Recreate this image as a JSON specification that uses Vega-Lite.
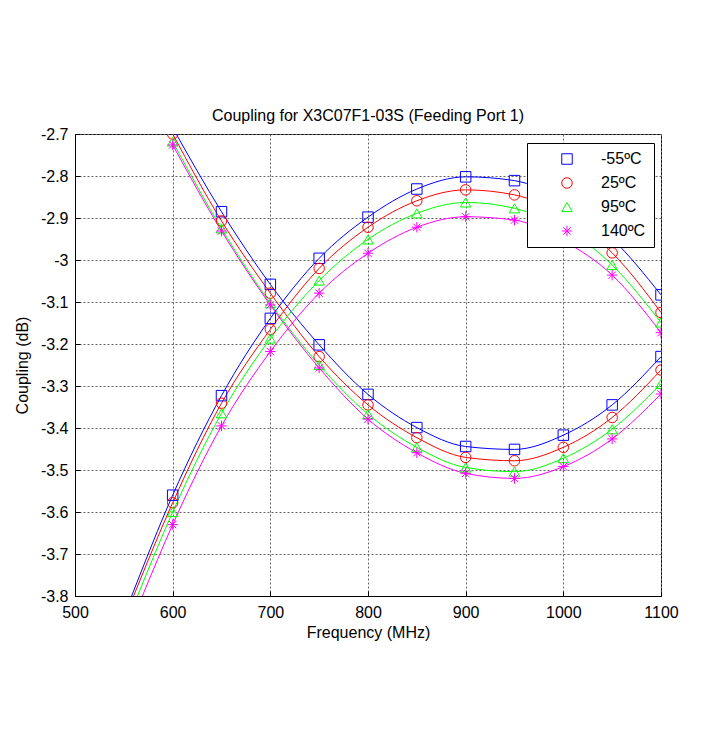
{
  "$schema": "https://vega.github.io/schema/vega-lite/v6.json",
  "width": 586,
  "height": 462,
  "autosize": {"type": "none"},
  "padding": {"left": 75, "top": 134, "right": 41, "bottom": 140},
  "background": "white",
  "config": {
    "font": "Liberation Sans",
    "view": {"stroke": "black", "strokeWidth": 1},
    "axis": {
      "domainColor": "black",
      "labelColor": "black",
      "titleColor": "black",
      "labelFontSize": 16,
      "titleFontSize": 16,
      "titleFontWeight": "normal",
      "gridColor": "#666666",
      "gridDash": [2, 2],
      "gridWidth": 1,
      "gridOpacity": 1,
      "tickColor": "black",
      "ticks": true,
      "tickSize": -5,
      "labelFlush": false,
      "labelOverlap": false
    },
    "legend": {
      "strokeColor": "black",
      "strokeWidth": 1,
      "fillColor": "white",
      "padding": 8,
      "labelFontSize": 16,
      "labelColor": "black",
      "symbolSize": 110,
      "symbolStrokeWidth": 1,
      "symbolOffset": 24,
      "labelOffset": 26,
      "rowPadding": 8
    }
  },
  "title": {
    "text": "Coupling for X3C07F1-03S (Feeding Port 1)",
    "fontSize": 16,
    "fontWeight": "normal",
    "color": "black",
    "offset": 2
  },
  "datasets": {
    "markers": [
      {"f": 600, "v": -2.685, "temp": "-55ºC", "curve": "fall"},
      {"f": 650, "v": -2.885, "temp": "-55ºC", "curve": "fall"},
      {"f": 700, "v": -3.058, "temp": "-55ºC", "curve": "fall"},
      {"f": 750, "v": -3.202, "temp": "-55ºC", "curve": "fall"},
      {"f": 800, "v": -3.32, "temp": "-55ºC", "curve": "fall"},
      {"f": 850, "v": -3.399, "temp": "-55ºC", "curve": "fall"},
      {"f": 900, "v": -3.444, "temp": "-55ºC", "curve": "fall"},
      {"f": 950, "v": -3.451, "temp": "-55ºC", "curve": "fall"},
      {"f": 1000, "v": -3.417, "temp": "-55ºC", "curve": "fall"},
      {"f": 1050, "v": -3.345, "temp": "-55ºC", "curve": "fall"},
      {"f": 1100, "v": -3.23, "temp": "-55ºC", "curve": "fall"},
      {"f": 600, "v": -2.7, "temp": "25ºC", "curve": "fall"},
      {"f": 650, "v": -2.907, "temp": "25ºC", "curve": "fall"},
      {"f": 700, "v": -3.079, "temp": "25ºC", "curve": "fall"},
      {"f": 750, "v": -3.23, "temp": "25ºC", "curve": "fall"},
      {"f": 800, "v": -3.345, "temp": "25ºC", "curve": "fall"},
      {"f": 850, "v": -3.423, "temp": "25ºC", "curve": "fall"},
      {"f": 900, "v": -3.47, "temp": "25ºC", "curve": "fall"},
      {"f": 950, "v": -3.478, "temp": "25ºC", "curve": "fall"},
      {"f": 1000, "v": -3.446, "temp": "25ºC", "curve": "fall"},
      {"f": 1050, "v": -3.375, "temp": "25ºC", "curve": "fall"},
      {"f": 1100, "v": -3.262, "temp": "25ºC", "curve": "fall"},
      {"f": 600, "v": -2.718, "temp": "95ºC", "curve": "fall"},
      {"f": 650, "v": -2.925, "temp": "95ºC", "curve": "fall"},
      {"f": 700, "v": -3.103, "temp": "95ºC", "curve": "fall"},
      {"f": 750, "v": -3.25, "temp": "95ºC", "curve": "fall"},
      {"f": 800, "v": -3.367, "temp": "95ºC", "curve": "fall"},
      {"f": 850, "v": -3.446, "temp": "95ºC", "curve": "fall"},
      {"f": 900, "v": -3.494, "temp": "95ºC", "curve": "fall"},
      {"f": 950, "v": -3.504, "temp": "95ºC", "curve": "fall"},
      {"f": 1000, "v": -3.472, "temp": "95ºC", "curve": "fall"},
      {"f": 1050, "v": -3.403, "temp": "95ºC", "curve": "fall"},
      {"f": 1100, "v": -3.295, "temp": "95ºC", "curve": "fall"},
      {"f": 600, "v": -2.726, "temp": "140ºC", "curve": "fall"},
      {"f": 650, "v": -2.931, "temp": "140ºC", "curve": "fall"},
      {"f": 700, "v": -3.107, "temp": "140ºC", "curve": "fall"},
      {"f": 750, "v": -3.257, "temp": "140ºC", "curve": "fall"},
      {"f": 800, "v": -3.379, "temp": "140ºC", "curve": "fall"},
      {"f": 850, "v": -3.459, "temp": "140ºC", "curve": "fall"},
      {"f": 900, "v": -3.508, "temp": "140ºC", "curve": "fall"},
      {"f": 950, "v": -3.52, "temp": "140ºC", "curve": "fall"},
      {"f": 1000, "v": -3.492, "temp": "140ºC", "curve": "fall"},
      {"f": 1050, "v": -3.426, "temp": "140ºC", "curve": "fall"},
      {"f": 1100, "v": -3.319, "temp": "140ºC", "curve": "fall"},
      {"f": 600, "v": -3.56, "temp": "-55ºC", "curve": "rise"},
      {"f": 650, "v": -3.323, "temp": "-55ºC", "curve": "rise"},
      {"f": 700, "v": -3.139, "temp": "-55ºC", "curve": "rise"},
      {"f": 750, "v": -2.996, "temp": "-55ºC", "curve": "rise"},
      {"f": 800, "v": -2.898, "temp": "-55ºC", "curve": "rise"},
      {"f": 850, "v": -2.831, "temp": "-55ºC", "curve": "rise"},
      {"f": 900, "v": -2.802, "temp": "-55ºC", "curve": "rise"},
      {"f": 950, "v": -2.811, "temp": "-55ºC", "curve": "rise"},
      {"f": 1000, "v": -2.859, "temp": "-55ºC", "curve": "rise"},
      {"f": 1050, "v": -2.949, "temp": "-55ºC", "curve": "rise"},
      {"f": 1100, "v": -3.083, "temp": "-55ºC", "curve": "rise"},
      {"f": 600, "v": -3.578, "temp": "25ºC", "curve": "rise"},
      {"f": 650, "v": -3.341, "temp": "25ºC", "curve": "rise"},
      {"f": 700, "v": -3.165, "temp": "25ºC", "curve": "rise"},
      {"f": 750, "v": -3.02, "temp": "25ºC", "curve": "rise"},
      {"f": 800, "v": -2.922, "temp": "25ºC", "curve": "rise"},
      {"f": 850, "v": -2.859, "temp": "25ºC", "curve": "rise"},
      {"f": 900, "v": -2.833, "temp": "25ºC", "curve": "rise"},
      {"f": 950, "v": -2.845, "temp": "25ºC", "curve": "rise"},
      {"f": 1000, "v": -2.893, "temp": "25ºC", "curve": "rise"},
      {"f": 1050, "v": -2.983, "temp": "25ºC", "curve": "rise"},
      {"f": 1100, "v": -3.125, "temp": "25ºC", "curve": "rise"},
      {"f": 600, "v": -3.6, "temp": "95ºC", "curve": "rise"},
      {"f": 650, "v": -3.365, "temp": "95ºC", "curve": "rise"},
      {"f": 700, "v": -3.187, "temp": "95ºC", "curve": "rise"},
      {"f": 750, "v": -3.049, "temp": "95ºC", "curve": "rise"},
      {"f": 800, "v": -2.951, "temp": "95ºC", "curve": "rise"},
      {"f": 850, "v": -2.889, "temp": "95ºC", "curve": "rise"},
      {"f": 900, "v": -2.863, "temp": "95ºC", "curve": "rise"},
      {"f": 950, "v": -2.877, "temp": "95ºC", "curve": "rise"},
      {"f": 1000, "v": -2.923, "temp": "95ºC", "curve": "rise"},
      {"f": 1050, "v": -3.012, "temp": "95ºC", "curve": "rise"},
      {"f": 1100, "v": -3.149, "temp": "95ºC", "curve": "rise"},
      {"f": 600, "v": -3.63, "temp": "140ºC", "curve": "rise"},
      {"f": 650, "v": -3.395, "temp": "140ºC", "curve": "rise"},
      {"f": 700, "v": -3.218, "temp": "140ºC", "curve": "rise"},
      {"f": 750, "v": -3.079, "temp": "140ºC", "curve": "rise"},
      {"f": 800, "v": -2.984, "temp": "140ºC", "curve": "rise"},
      {"f": 850, "v": -2.922, "temp": "140ºC", "curve": "rise"},
      {"f": 900, "v": -2.897, "temp": "140ºC", "curve": "rise"},
      {"f": 950, "v": -2.905, "temp": "140ºC", "curve": "rise"},
      {"f": 1000, "v": -2.954, "temp": "140ºC", "curve": "rise"},
      {"f": 1050, "v": -3.036, "temp": "140ºC", "curve": "rise"},
      {"f": 1100, "v": -3.173, "temp": "140ºC", "curve": "rise"}
    ],
    "lines": [
      {"f": 600, "v": -2.685, "temp": "-55ºC", "curve": "fall"},
      {"f": 650, "v": -2.885, "temp": "-55ºC", "curve": "fall"},
      {"f": 700, "v": -3.058, "temp": "-55ºC", "curve": "fall"},
      {"f": 750, "v": -3.202, "temp": "-55ºC", "curve": "fall"},
      {"f": 800, "v": -3.32, "temp": "-55ºC", "curve": "fall"},
      {"f": 850, "v": -3.399, "temp": "-55ºC", "curve": "fall"},
      {"f": 900, "v": -3.444, "temp": "-55ºC", "curve": "fall"},
      {"f": 950, "v": -3.451, "temp": "-55ºC", "curve": "fall"},
      {"f": 1000, "v": -3.417, "temp": "-55ºC", "curve": "fall"},
      {"f": 1050, "v": -3.345, "temp": "-55ºC", "curve": "fall"},
      {"f": 1100, "v": -3.23, "temp": "-55ºC", "curve": "fall"},
      {"f": 600, "v": -2.7, "temp": "25ºC", "curve": "fall"},
      {"f": 650, "v": -2.907, "temp": "25ºC", "curve": "fall"},
      {"f": 700, "v": -3.079, "temp": "25ºC", "curve": "fall"},
      {"f": 750, "v": -3.23, "temp": "25ºC", "curve": "fall"},
      {"f": 800, "v": -3.345, "temp": "25ºC", "curve": "fall"},
      {"f": 850, "v": -3.423, "temp": "25ºC", "curve": "fall"},
      {"f": 900, "v": -3.47, "temp": "25ºC", "curve": "fall"},
      {"f": 950, "v": -3.478, "temp": "25ºC", "curve": "fall"},
      {"f": 1000, "v": -3.446, "temp": "25ºC", "curve": "fall"},
      {"f": 1050, "v": -3.375, "temp": "25ºC", "curve": "fall"},
      {"f": 1100, "v": -3.262, "temp": "25ºC", "curve": "fall"},
      {"f": 600, "v": -2.718, "temp": "95ºC", "curve": "fall"},
      {"f": 650, "v": -2.925, "temp": "95ºC", "curve": "fall"},
      {"f": 700, "v": -3.103, "temp": "95ºC", "curve": "fall"},
      {"f": 750, "v": -3.25, "temp": "95ºC", "curve": "fall"},
      {"f": 800, "v": -3.367, "temp": "95ºC", "curve": "fall"},
      {"f": 850, "v": -3.446, "temp": "95ºC", "curve": "fall"},
      {"f": 900, "v": -3.494, "temp": "95ºC", "curve": "fall"},
      {"f": 950, "v": -3.504, "temp": "95ºC", "curve": "fall"},
      {"f": 1000, "v": -3.472, "temp": "95ºC", "curve": "fall"},
      {"f": 1050, "v": -3.403, "temp": "95ºC", "curve": "fall"},
      {"f": 1100, "v": -3.295, "temp": "95ºC", "curve": "fall"},
      {"f": 600, "v": -2.726, "temp": "140ºC", "curve": "fall"},
      {"f": 650, "v": -2.931, "temp": "140ºC", "curve": "fall"},
      {"f": 700, "v": -3.107, "temp": "140ºC", "curve": "fall"},
      {"f": 750, "v": -3.257, "temp": "140ºC", "curve": "fall"},
      {"f": 800, "v": -3.379, "temp": "140ºC", "curve": "fall"},
      {"f": 850, "v": -3.459, "temp": "140ºC", "curve": "fall"},
      {"f": 900, "v": -3.508, "temp": "140ºC", "curve": "fall"},
      {"f": 950, "v": -3.52, "temp": "140ºC", "curve": "fall"},
      {"f": 1000, "v": -3.492, "temp": "140ºC", "curve": "fall"},
      {"f": 1050, "v": -3.426, "temp": "140ºC", "curve": "fall"},
      {"f": 1100, "v": -3.319, "temp": "140ºC", "curve": "fall"},
      {"f": 558, "v": -3.8, "temp": "-55ºC", "curve": "rise"},
      {"f": 600, "v": -3.56, "temp": "-55ºC", "curve": "rise"},
      {"f": 650, "v": -3.323, "temp": "-55ºC", "curve": "rise"},
      {"f": 700, "v": -3.139, "temp": "-55ºC", "curve": "rise"},
      {"f": 750, "v": -2.996, "temp": "-55ºC", "curve": "rise"},
      {"f": 800, "v": -2.898, "temp": "-55ºC", "curve": "rise"},
      {"f": 850, "v": -2.831, "temp": "-55ºC", "curve": "rise"},
      {"f": 900, "v": -2.802, "temp": "-55ºC", "curve": "rise"},
      {"f": 950, "v": -2.811, "temp": "-55ºC", "curve": "rise"},
      {"f": 1000, "v": -2.859, "temp": "-55ºC", "curve": "rise"},
      {"f": 1050, "v": -2.949, "temp": "-55ºC", "curve": "rise"},
      {"f": 1100, "v": -3.083, "temp": "-55ºC", "curve": "rise"},
      {"f": 560, "v": -3.8, "temp": "25ºC", "curve": "rise"},
      {"f": 600, "v": -3.578, "temp": "25ºC", "curve": "rise"},
      {"f": 650, "v": -3.341, "temp": "25ºC", "curve": "rise"},
      {"f": 700, "v": -3.165, "temp": "25ºC", "curve": "rise"},
      {"f": 750, "v": -3.02, "temp": "25ºC", "curve": "rise"},
      {"f": 800, "v": -2.922, "temp": "25ºC", "curve": "rise"},
      {"f": 850, "v": -2.859, "temp": "25ºC", "curve": "rise"},
      {"f": 900, "v": -2.833, "temp": "25ºC", "curve": "rise"},
      {"f": 950, "v": -2.845, "temp": "25ºC", "curve": "rise"},
      {"f": 1000, "v": -2.893, "temp": "25ºC", "curve": "rise"},
      {"f": 1050, "v": -2.983, "temp": "25ºC", "curve": "rise"},
      {"f": 1100, "v": -3.125, "temp": "25ºC", "curve": "rise"},
      {"f": 564, "v": -3.8, "temp": "95ºC", "curve": "rise"},
      {"f": 600, "v": -3.6, "temp": "95ºC", "curve": "rise"},
      {"f": 650, "v": -3.365, "temp": "95ºC", "curve": "rise"},
      {"f": 700, "v": -3.187, "temp": "95ºC", "curve": "rise"},
      {"f": 750, "v": -3.049, "temp": "95ºC", "curve": "rise"},
      {"f": 800, "v": -2.951, "temp": "95ºC", "curve": "rise"},
      {"f": 850, "v": -2.889, "temp": "95ºC", "curve": "rise"},
      {"f": 900, "v": -2.863, "temp": "95ºC", "curve": "rise"},
      {"f": 950, "v": -2.877, "temp": "95ºC", "curve": "rise"},
      {"f": 1000, "v": -2.923, "temp": "95ºC", "curve": "rise"},
      {"f": 1050, "v": -3.012, "temp": "95ºC", "curve": "rise"},
      {"f": 1100, "v": -3.149, "temp": "95ºC", "curve": "rise"},
      {"f": 569, "v": -3.8, "temp": "140ºC", "curve": "rise"},
      {"f": 600, "v": -3.63, "temp": "140ºC", "curve": "rise"},
      {"f": 650, "v": -3.395, "temp": "140ºC", "curve": "rise"},
      {"f": 700, "v": -3.218, "temp": "140ºC", "curve": "rise"},
      {"f": 750, "v": -3.079, "temp": "140ºC", "curve": "rise"},
      {"f": 800, "v": -2.984, "temp": "140ºC", "curve": "rise"},
      {"f": 850, "v": -2.922, "temp": "140ºC", "curve": "rise"},
      {"f": 900, "v": -2.897, "temp": "140ºC", "curve": "rise"},
      {"f": 950, "v": -2.905, "temp": "140ºC", "curve": "rise"},
      {"f": 1000, "v": -2.954, "temp": "140ºC", "curve": "rise"},
      {"f": 1050, "v": -3.036, "temp": "140ºC", "curve": "rise"},
      {"f": 1100, "v": -3.173, "temp": "140ºC", "curve": "rise"}
    ]
  },
  "encoding": {
    "x": {
      "field": "f",
      "type": "quantitative",
      "scale": {"domain": [500, 1100], "nice": false, "zero": false},
      "axis": {
        "title": "Frequency (MHz)",
        "values": [500, 600, 700, 800, 900, 1000, 1100],
        "format": "d",
        "labelPadding": 13,
        "titlePadding": 4
      }
    },
    "y": {
      "field": "v",
      "type": "quantitative",
      "scale": {"domain": [-3.8, -2.7], "nice": false, "zero": false},
      "axis": {
        "title": "Coupling (dB)",
        "values": [-3.8, -3.7, -3.6, -3.5, -3.4, -3.3, -3.2, -3.1, -3, -2.9, -2.8, -2.7],
        "labelExpr": "'' + datum.value",
        "labelPadding": 12,
        "titlePadding": 10
      }
    },
    "color": {
      "field": "temp",
      "type": "nominal",
      "scale": {
        "domain": ["-55ºC", "25ºC", "95ºC", "140ºC"],
        "range": ["#0000ff", "#ff0000", "#00ff00", "#ff00ff"]
      },
      "legend": {
        "title": null,
        "orient": "none",
        "legendX": 452,
        "legendY": 9
      }
    }
  },
  "layer": [
    {
      "data": {"name": "lines"},
      "mark": {"type": "line", "interpolate": "monotone", "strokeWidth": 1, "clip": true},
      "encoding": {
        "detail": {"field": "curve", "type": "nominal"},
        "order": {"field": "f", "type": "quantitative"}
      }
    },
    {
      "data": {"name": "markers"},
      "mark": {"type": "point", "filled": false, "strokeWidth": 1, "size": 110, "clip": true, "opacity": 1},
      "encoding": {
        "shape": {
          "field": "temp",
          "type": "nominal",
          "scale": {
            "domain": ["-55ºC", "25ºC", "95ºC", "140ºC"],
            "range": ["square", "circle", "triangle-up", "M-1,0L1,0M0,-1L0,1M-0.7,-0.7L0.7,0.7M-0.7,0.7L0.7,-0.7"]
          },
          "legend": {
            "title": null,
            "orient": "none",
            "legendX": 452,
            "legendY": 9
          }
        }
      }
    }
  ]
}
